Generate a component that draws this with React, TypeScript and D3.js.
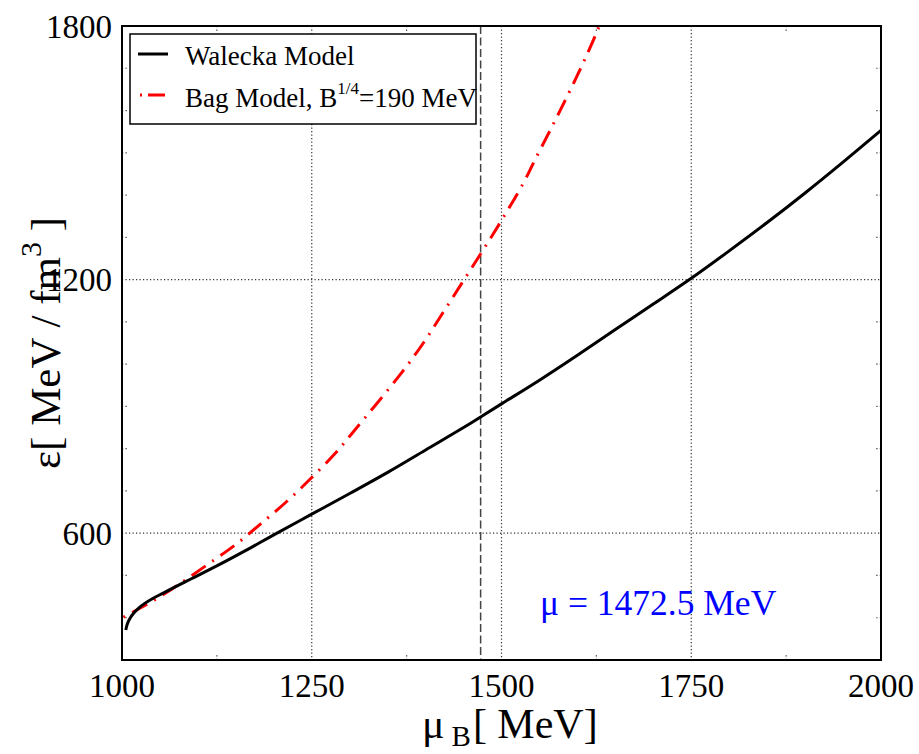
import React from "react";
import * as d3 from "d3";

const muWalecka = [1005, 1007, 1010, 1015, 1022, 1030, 1040, 1055, 1070, 1090, 1110, 1140, 1170, 1200, 1250, 1300, 1350, 1400, 1450, 1472.5, 1500, 1550, 1600, 1650, 1700, 1750, 1800, 1850, 1900, 1950, 2000];
const epsWalecka = [371, 385, 397, 410, 423, 434, 445, 459, 473, 491, 509, 537, 566, 596, 645, 694, 744, 797, 850, 875, 906, 962, 1021, 1082, 1142, 1203, 1268, 1335, 1405, 1478, 1553];

const muBag = [1002, 1013, 1041, 1076, 1112, 1149, 1182, 1217, 1249, 1281, 1303, 1369, 1397, 1423, 1449, 1474, 1500, 1529, 1544, 1566, 1588, 1609, 1628, 1640];
const epsBag = [401, 412, 440, 480, 525, 572, 621, 675, 730, 789, 836, 981, 1050, 1122, 1195, 1265, 1340, 1429, 1483, 1560, 1639, 1718, 1796, 1850];

const xMajor = [1000, 1250, 1500, 1750, 2000];
const xMinor = [1125, 1375, 1625, 1875];
const yMajor = [600, 1200, 1800];
const yMinor = [400, 500, 700, 800, 900, 1000, 1100, 1300, 1400, 1500, 1600, 1700];
const muCritical = 1472.5;

const W = 919;
const H = 754;
const L = 122, R = 881, T = 26, B = 660;
const FONT = "Liberation Serif";

export default function App() {
  const x = d3.scaleLinear().domain([1000, 2000]).range([L, R]);
  const y = d3.scaleLinear().domain([300, 1800]).range([B, T]);
  const line = d3
    .line<[number, number]>()
    .x((d) => x(d[0]))
    .y((d) => y(d[1]))
    .curve(d3.curveCatmullRom.alpha(0.5));
  const wPath = line(muWalecka.map((m, i) => [m, epsWalecka[i]]) as [number, number][]) || "";
  const bPath = line(muBag.map((m, i) => [m, epsBag[i]]) as [number, number][]) || "";

  const gridColor = "#333";
  const ts = { fontFamily: FONT, fontWeight: 400 as const };
  return (
    <svg
      width={W}
      height={H}
      style={{ position: "absolute", left: 0, top: 0, background: "#fff" }}
    >
      <defs>
        <clipPath id="plot">
          <rect x={L} y={T} width={R - L} height={B - T} />
        </clipPath>
      </defs>
      <rect x={0} y={0} width={W} height={H} fill="#fff" />
      {/* grid */}
      {xMajor.slice(1, -1).map((v) => (
        <line key={"gx" + v} x1={x(v)} x2={x(v)} y1={T} y2={B} stroke={gridColor} strokeWidth={1.2} strokeDasharray="1.2,2.3" />
      ))}
      {yMajor.slice(0, -1).map((v) => (
        <line key={"gy" + v} x1={L} x2={R} y1={y(v)} y2={y(v)} stroke={gridColor} strokeWidth={1.2} strokeDasharray="1.2,2.3" />
      ))}
      {/* minor ticks */}
      {xMinor.map((v) => (
        <g key={"mx" + v} stroke={gridColor} strokeWidth={1.2} strokeDasharray="1.2,2.3">
          <line x1={x(v)} x2={x(v)} y1={B} y2={B - 6} />
          <line x1={x(v)} x2={x(v)} y1={T} y2={T + 6} />
        </g>
      ))}
      {yMinor.map((v) => (
        <g key={"my" + v} stroke={gridColor} strokeWidth={1.2} strokeDasharray="1.2,2.3">
          <line x1={L} x2={L + 6} y1={y(v)} y2={y(v)} />
          <line x1={R} x2={R - 6} y1={y(v)} y2={y(v)} />
        </g>
      ))}
      {/* critical line */}
      <line x1={x(muCritical)} x2={x(muCritical)} y1={T} y2={B} stroke="#444" strokeWidth={1.5} strokeDasharray="8,3.5" />
      {/* curves */}
      <g clipPath="url(#plot)">
        <path d={bPath} fill="none" stroke="#ff0000" strokeWidth={3} strokeDasharray="2,8,17,8" />
        <path d={wPath} fill="none" stroke="#000" strokeWidth={3} />
      </g>
      {/* frame */}
      <rect x={L} y={T} width={R - L} height={B - T} fill="none" stroke="#000" strokeWidth={2} />
      {/* tick labels */}
      {xMajor.map((v) => (
        <text key={"tx" + v} x={x(v)} y={697} fontSize={33} textAnchor="middle" fill="#000" style={ts}>
          {String(v)}
        </text>
      ))}
      {yMajor.map((v) => (
        <text key={"ty" + v} x={112} y={y(v) + 11.5} fontSize={33} textAnchor="end" fill="#000" style={ts}>
          {String(v)}
        </text>
      ))}
      {/* axis titles */}
      <text x={422} y={738} fontSize={42} fill="#000" style={ts}>
        <tspan>μ</tspan>
        <tspan fontSize={29} dx={7} dy={8}>B</tspan>
        <tspan dx={2} dy={-8}>[ MeV]</tspan>
      </text>
      <text transform={`translate(60, ${(T + B) / 2}) rotate(-90)`} fontSize={43} textAnchor="middle" fill="#000" style={ts}>
        <tspan>ε[ MeV / fm</tspan>
        <tspan fontSize={30} dy={-19}>3</tspan>
        <tspan dy={19}> ]</tspan>
      </text>
      {/* legend */}
      <rect x={130} y={34} width={346} height={90} fill="#fff" stroke="#000" strokeWidth={1.5} />
      <line x1={138} x2={168} y1={54} y2={54} stroke="#000" strokeWidth={3} />
      <text x={185} y={65} fontSize={27} fill="#000" style={ts}>Walecka Model</text>
      <line x1={140} x2={168} y1={95} y2={95} stroke="#ff0000" strokeWidth={3} strokeDasharray="2,6,17,8" />
      <text x={185} y={107} fontSize={27} fill="#000" style={ts}>
        <tspan>Bag Model, B</tspan>
        <tspan fontSize={17} dy={-13}>1/4</tspan>
        <tspan dy={13}>=190 MeV</tspan>
      </text>
      {/* annotation */}
      <text x={540} y={615} fontSize={35.5} fill="#0000ff" style={ts}>μ = 1472.5 MeV</text>
    </svg>
  );
}
